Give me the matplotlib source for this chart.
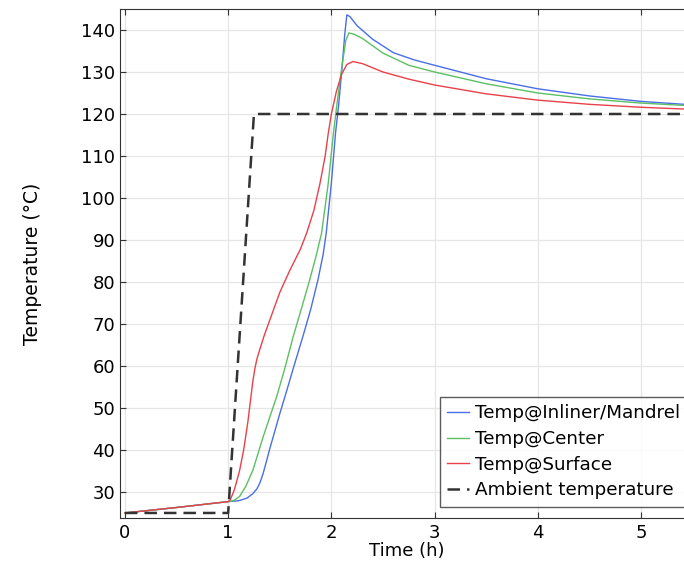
import matplotlib
matplotlib.use("Agg")
import matplotlib.pyplot as plt

# Ambient temperature (dashed)
t_amb = [0, 1.0, 1.25, 5.6]
amb = [25, 25, 120, 120]

# Temp@Surface
t_surf = [0, 0.5, 1.0, 1.02, 1.06, 1.11, 1.15, 1.19, 1.22, 1.24, 1.26, 1.28, 1.31,
          1.35, 1.4, 1.5, 1.6, 1.7, 1.76, 1.83, 1.89, 1.94, 1.97, 2.0, 2.05, 2.1,
          2.15, 2.21, 2.3, 2.5, 2.75, 3.0, 3.5, 4.0, 4.5, 5.0, 5.6]
surf = [25, 26.3, 27.7, 28.1, 30.5, 35, 40, 46.5, 52.5, 56.5, 59.5, 61.8, 64.2,
        67.3, 70.7, 77.5, 82.9, 87.8, 91.6, 97, 103.5, 110, 115.4, 120, 125.5, 129.5,
        131.8, 132.5, 132, 130, 128.3, 126.9, 124.8, 123.3, 122.3, 121.6, 121.0]

# Temp@Center
t_cent = [0, 0.5, 1.0, 1.05, 1.11, 1.17, 1.24, 1.34, 1.47, 1.55, 1.63, 1.72, 1.79,
          1.85, 1.905, 1.97, 2.02, 2.05, 2.1, 2.14, 2.17, 2.22, 2.3, 2.5, 2.75, 3.0,
          3.5, 4.0, 4.5, 5.0, 5.6]
cent = [25, 26.3, 27.7, 27.9, 28.9, 31.3, 35.2, 43.2, 52.7, 59.5, 67, 74.5, 80.5,
        86, 91.6, 103.5, 115.4, 121.5, 131, 137.5, 139.3, 139, 138, 134.5, 131.6, 130,
        127.2, 125.0, 123.6, 122.6, 121.8]

# Temp@Inliner/Mandrel
t_inl = [0, 0.5, 1.0, 1.1, 1.18, 1.24, 1.28, 1.31, 1.34, 1.37, 1.4, 1.45, 1.5,
         1.566, 1.65, 1.73, 1.8, 1.87, 1.92, 1.95, 2.0, 2.04, 2.07, 2.1, 2.13, 2.15,
         2.18, 2.25, 2.4, 2.6, 2.8, 3.0, 3.5, 4.0, 4.5, 5.0, 5.6]
inl = [25, 26.3, 27.7, 27.9, 28.5, 29.6, 30.8, 32.3, 34.5, 37.2, 40, 44.3, 48.6,
       54, 61, 67.5, 73.5, 80.5, 86.5, 91.6, 103.5, 115.4, 122, 130, 139, 143.6,
       143.2, 141, 137.8, 134.6, 132.9, 131.6, 128.4, 126.0, 124.3, 123.0, 122.0]

xticks = [0, 1, 2, 3, 4, 5]
yticks = [30, 40, 50, 60, 70, 80, 90, 100, 110, 120, 130, 140]

W, H = 684, 563
fig = plt.figure(figsize=(W / 100, H / 100), dpi=100)
# axes runs past the right edge (the reference is cropped there)
ax = fig.add_axes([120 / W, 45 / H, 580 / W, 509 / H])

ax.plot(t_inl, inl, color="#4a6ee6", lw=1.0, label="Temp@Inliner/Mandrel")
ax.plot(t_cent, cent, color="#5cbf62", lw=1.0, label="Temp@Center")
ax.plot(t_surf, surf, color="#e8414a", lw=1.0, label="Temp@Surface")
ax.plot(t_amb, amb, color="#333333", lw=1.8, ls=(0, (5, 2.8)), label="Ambient temperature")

ax.set_xlim(-0.048, 5.572)
ax.set_ylim(23.8, 145)
ax.set_xticks(xticks)
ax.set_yticks(yticks)
ax.grid(True, color="#e6e6e6", lw=0.9)
ax.set_axisbelow(True)
ax.tick_params(direction="in", top=True, labelsize=13, length=4, color="#333333")
ax.tick_params(axis="x", pad=4)
for s in ax.spines.values():
    s.set_color("#333333")
ax.spines["right"].set_visible(False)

ax.set_xlabel("Time (h)", fontsize=13)
ax.set_ylabel("Temperature (°C)", fontsize=13.5)
ax.xaxis.set_label_coords(0.495, -0.047)
ax.yaxis.set_label_coords(-0.134, 0.5)

leg = ax.legend(loc="upper left", bbox_to_anchor=(440 / W, 1 - 397 / H),
                bbox_transform=fig.transFigure, fontsize=13.2, frameon=True,
                fancybox=False, handlelength=1.2, handletextpad=0.3,
                borderpad=0.4, labelspacing=0.42, borderaxespad=0)
leg.get_frame().set_edgecolor("#333333")
leg.get_frame().set_linewidth(1.0)

fig.savefig("out.png", dpi=100)
